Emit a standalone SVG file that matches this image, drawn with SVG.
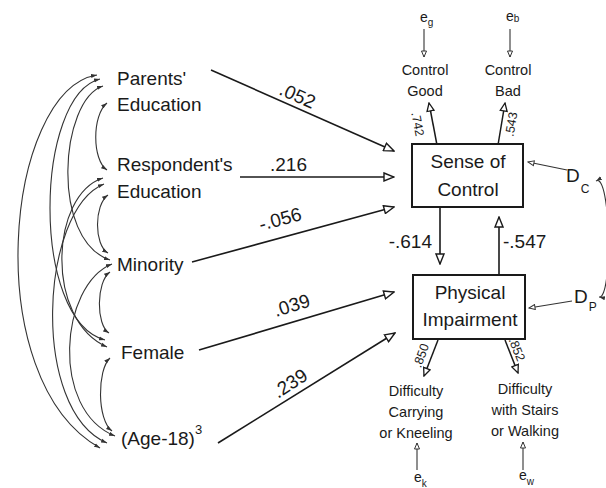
<svg xmlns="http://www.w3.org/2000/svg" width="606" height="488" viewBox="0 0 606 488">
<style>
text { font-family: "Liberation Sans", Arial, sans-serif; fill: #1a1a1a; }
.lbl { font-size: 19px; }
.sm { font-size: 14.5px; text-anchor: middle; }
.coef { font-size: 19px; }
.load { font-size: 12.5px; text-anchor: middle; }
.err { font-size: 14px; }
.sub { font-size: 10px; }
.box { fill: #fff; stroke: #1a1a1a; stroke-width: 2; }
.path { fill: none; stroke: #1a1a1a; stroke-width: 1.6; marker-end: url(#big); }
.loadl { fill: none; stroke: #1a1a1a; stroke-width: 1.5; marker-end: url(#mid); }
.errl { fill: none; stroke: #333; stroke-width: 1.1; marker-end: url(#small); }
.cor { fill: none; stroke: #333; stroke-width: 1.1; marker-start: url(#dot); marker-end: url(#dot); }
</style>
<defs>
<marker id="big" viewBox="0 0 12 10" refX="11" refY="5" markerWidth="12" markerHeight="10" markerUnits="userSpaceOnUse" orient="auto"><path d="M1,1 L11,5 L1,9 Z" fill="#fff" stroke="#1a1a1a" stroke-width="1.4"/></marker>
<marker id="mid" viewBox="0 0 10 9" refX="9" refY="4.5" markerWidth="10" markerHeight="9" markerUnits="userSpaceOnUse" orient="auto"><path d="M1,1 L9,4.5 L1,8 Z" fill="#fff" stroke="#1a1a1a" stroke-width="1.3"/></marker>
<marker id="small" viewBox="0 0 8 7" refX="7" refY="3.5" markerWidth="8" markerHeight="7" markerUnits="userSpaceOnUse" orient="auto"><path d="M1,1 L7,3.5 L1,6 Z" fill="#fff" stroke="#333" stroke-width="1"/></marker>
<marker id="dot" viewBox="0 0 6 5" refX="6" refY="2.5" markerWidth="6" markerHeight="5" markerUnits="userSpaceOnUse" orient="auto-start-reverse"><path d="M0,0.5 L6,2.5 L0,4.5 Z" fill="#333"/></marker>
</defs>
<rect width="606" height="488" fill="#fff"/>

<g id="connectors">
  <!-- correlations among exogenous variables -->
  <path class="cor" d="M97,75 C5,90 -22,380 100,448"/>
  <path class="cor" d="M100,79 C35,95 30,320 105,340"/>
  <path class="cor" d="M103,86 C60,100 50,240 110,260"/>
  <path class="cor" d="M107,103 C92,115 92,160 107,170"/>
  <path class="cor" d="M103,178 C50,195 45,320 107,347"/>
  <path class="cor" d="M104,184 C40,210 30,410 107,443"/>
  <path class="cor" d="M108,195 C94,205 94,245 108,253"/>
  <path class="cor" d="M112,264 C60,285 50,410 115,436"/>
  <path class="cor" d="M110,272 C96,282 96,325 109,333"/>
  <path class="cor" d="M110,358 C97,370 97,420 112,431"/>
  <!-- structural paths -->
  <path class="path" d="M211,70 L394,151"/>
  <path class="path" d="M240,177 L394,177"/>
  <path class="path" d="M192,262 L394,207"/>
  <path class="path" d="M199,350 L394,292"/>
  <path class="path" d="M218,443 L395,333"/>
  <path class="path" d="M440,207 L440,264"/>
  <path class="path" d="M499,275 L499,217"/>
  <!-- loadings -->
  <path class="loadl" d="M437,145 L429,103"/>
  <path class="loadl" d="M498,145 L505,103"/>
  <path class="loadl" d="M438,340 L424,376"/>
  <path class="loadl" d="M505,340 L518,373"/>
  <!-- errors and disturbances -->
  <path class="errl" d="M424,29 L424,57"/>
  <path class="errl" d="M510,29 L510,57"/>
  <path class="errl" d="M417,470 L417,443"/>
  <path class="errl" d="M523,470 L523,442"/>
  <path class="errl" d="M567,170 L528,162"/>
  <path class="errl" d="M572,301 L529,308"/>
  <path class="cor" d="M596,181 C611,172 613,300 599,297"/>
</g>

<g id="edge-labels">
  <text class="coef" transform="translate(278,94) rotate(24)">.052</text>
  <text class="coef" x="270" y="171">.216</text>
  <text class="coef" transform="translate(261,231) rotate(-15)">-.056</text>
  <text class="coef" transform="translate(276,317) rotate(-17)">.039</text>
  <text class="coef" transform="translate(278,399) rotate(-33)">.239</text>
  <text class="coef" x="432" y="248" text-anchor="end">-.614</text>
  <text class="coef" x="503" y="248">-.547</text>
  <text class="load" transform="translate(413.6,125) rotate(79)">.742</text>
  <text class="load" transform="translate(515.4,125) rotate(-80)">.543</text>
  <text class="load" transform="translate(425,357) rotate(-70)">.850</text>
  <text class="load" transform="translate(513,351) rotate(68)">.852</text>
</g>

<g id="parents"><text class="lbl" x="117" y="85">Parents'</text><text class="lbl" x="117" y="111">Education</text></g>
<g id="respondent"><text class="lbl" x="117" y="171">Respondent's</text><text class="lbl" x="117" y="198">Education</text></g>
<g id="minority"><text class="lbl" x="117" y="271">Minority</text></g>
<g id="female"><text class="lbl" x="121" y="359">Female</text></g>
<g id="age"><text class="lbl" x="121" y="445">(Age-18)<tspan dy="-11" font-size="13">3</tspan></text></g>

<g id="sense-of-control">
  <rect class="box" x="412" y="144" width="111" height="63"/>
  <text class="lbl" x="468" y="168" text-anchor="middle">Sense of</text>
  <text class="lbl" x="468" y="196" text-anchor="middle">Control</text>
</g>
<g id="physical-impairment">
  <rect class="box" x="413" y="275" width="112" height="64"/>
  <text class="lbl" x="470" y="299" text-anchor="middle">Physical</text>
  <text class="lbl" x="470" y="326" text-anchor="middle">Impairment</text>
</g>

<g id="control-good"><text class="sm" x="425" y="75">Control</text><text class="sm" x="425" y="96">Good</text></g>
<g id="control-bad"><text class="sm" x="508" y="75">Control</text><text class="sm" x="508" y="96">Bad</text></g>
<g id="difficulty-carrying"><text class="sm" x="416" y="396">Difficulty</text><text class="sm" x="416" y="417">Carrying</text><text class="sm" x="416" y="438">or Kneeling</text></g>
<g id="difficulty-stairs"><text class="sm" x="525" y="394">Difficulty</text><text class="sm" x="525" y="415">with Stairs</text><text class="sm" x="525" y="436">or Walking</text></g>

<g id="e-g"><text class="err" x="420" y="22">e<tspan class="sub" dy="4">g</tspan></text></g>
<g id="e-b"><text class="err" x="506" y="21">e<tspan class="sub" dy="1">b</tspan></text></g>
<g id="e-k"><text class="err" x="414" y="482">e<tspan class="sub" dy="5">k</tspan></text></g>
<g id="e-w"><text class="err" x="519" y="480">e<tspan class="sub" dy="5">w</tspan></text></g>
<g id="d-c"><text class="lbl" x="566" y="182" font-size="15">D<tspan dx="1" dy="11" font-size="12">C</tspan></text></g>
<g id="d-p"><text class="lbl" x="574" y="303" font-size="15">D<tspan dx="1" dy="8" font-size="12">P</tspan></text></g>
</svg>
